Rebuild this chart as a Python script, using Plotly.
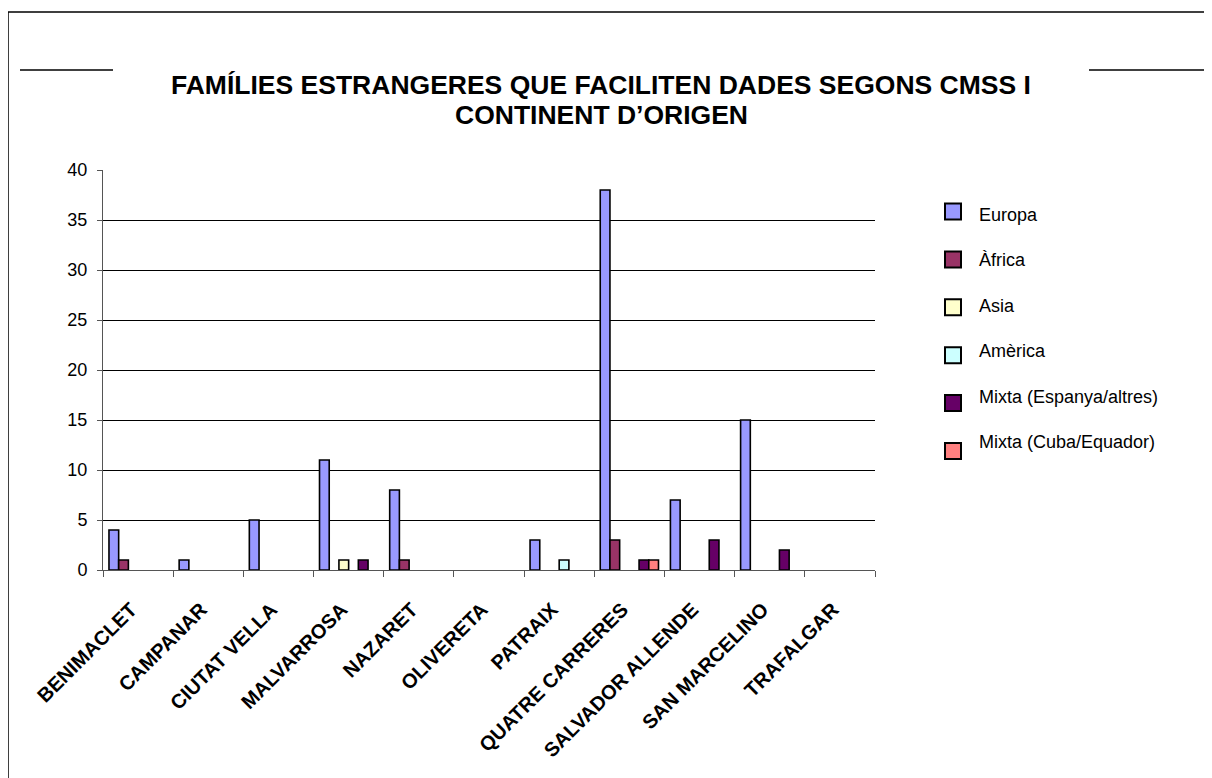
import plotly.graph_objects as go

# data
barris = ["BENIMACLET", "CAMPANAR", "CIUTAT VELLA", "MALVARROSA", "NAZARET",
          "OLIVERETA", "PATRAIX", "QUATRE CARRERES", "SALVADOR ALLENDE",
          "SAN MARCELINO", "TRAFALGAR"]
europa = [4, 1, 5, 11, 8, None, 3, 38, 7, 15, None]
africa = [1, None, None, None, 1, None, None, 3, None, None, None]
asia = [None, None, None, 1, None, None, None, None, None, None, None]
america = [None, None, None, None, None, None, 1, None, None, None, None]
mixta_esp = [None, None, None, 1, None, None, None, 1, 3, 2, None]
mixta_cuba = [None, None, None, None, None, None, None, 1, None, None, None]

series = [
    ("Europa", europa, "#9999FF"),
    ("Àfrica", africa, "#993366"),
    ("Asia", asia, "#FFFFCC"),
    ("Amèrica", america, "#CCFFFF"),
    ("Mixta (Espanya/altres)", mixta_esp, "#660066"),
    ("Mixta (Cuba/Equador)", mixta_cuba, "#FF8080"),
]

FONT = "Liberation Sans, Arial, sans-serif"

# page is offset by the 8px body margin of the html page
OFF = 8
W, H = 1212 - OFF, 778 - OFF
# plot area in page pixels (from the reference)
L, R, T, B = 103, 875, 170, 570


def px_x(x):
    return (x - L) / (R - L)


def px_y(y):
    return (B - y) / (B - T)


fig = go.Figure()
for name, vals, col in series:
    fig.add_trace(go.Bar(
        x=barris, y=vals, name=name,
        marker=dict(color=col, line=dict(color="black", width=1.6)),
        showlegend=False,
    ))

fig.update_layout(
    width=W, height=H,
    margin=dict(l=L - OFF, r=W - (R - OFF), t=T - OFF, b=H - (B - OFF)),
    paper_bgcolor="white", plot_bgcolor="white",
    barmode="group", bargap=0.17, bargroupgap=0,
    font=dict(family=FONT, color="black", size=18),
)

fig.update_yaxes(range=[0, 40], dtick=5, showgrid=True, gridcolor="black", gridwidth=1,
                 showline=True, linecolor="#555", linewidth=1,
                 ticks="outside", ticklen=5, tickcolor="#555",
                 tickfont=dict(size=18), ticklabelstandoff=6, zeroline=False)
fig.update_xaxes(showline=True, linecolor="#555", linewidth=1,
                 ticks="outside", ticklen=6, tickcolor="#555", tickson="boundaries",
                 tickangle=-45, tickfont=dict(size=20), ticklabelstandoff=19,
                 ticklabelshift=-7,
                 tickvals=barris, ticktext=["<b>%s</b>" % b for b in barris])

# legend drawn by hand (bigger boxes, like the original)
for i, (name, vals, col) in enumerate(series):
    yc = 211.5 + 47.9 * i
    fig.add_shape(type="rect", xref="paper", yref="paper",
                  x0=px_x(945), x1=px_x(961), y0=px_y(yc + 8), y1=px_y(yc - 8),
                  fillcolor=col, line=dict(color="black", width=2))
    fig.add_annotation(text=name, xref="paper", yref="paper",
                       x=px_x(977), y=px_y(215 + 45.4 * i),
                       showarrow=False, font=dict(size=18),
                       xanchor="left", yanchor="middle")

# title, two lines
fig.add_annotation(text="<b>FAMÍLIES ESTRANGERES QUE FACILITEN DADES SEGONS CMSS I</b>",
                   xref="paper", yref="paper", x=px_x(601), y=px_y(85),
                   showarrow=False, font=dict(size=26.5), xanchor="center", yanchor="middle")
fig.add_annotation(text="<b>CONTINENT D’ORIGEN</b>",
                   xref="paper", yref="paper", x=px_x(601), y=px_y(115),
                   showarrow=False, font=dict(size=26.5), xanchor="center", yanchor="middle")

# page frame and the two rule lines
fig.add_shape(type="rect", xref="paper", yref="paper",
              x0=px_x(8), x1=px_x(1208), y0=px_y(820), y1=px_y(12),
              line=dict(color="black", width=1.5), layer="below")
fig.add_shape(type="line", xref="paper", yref="paper",
              x0=px_x(20), x1=px_x(113), y0=px_y(70), y1=px_y(70),
              line=dict(color="black", width=1.3))
fig.add_shape(type="line", xref="paper", yref="paper",
              x0=px_x(1089), x1=px_x(1212), y0=px_y(70), y1=px_y(70),
              line=dict(color="black", width=1.3))

fig.write_html("out.html")
